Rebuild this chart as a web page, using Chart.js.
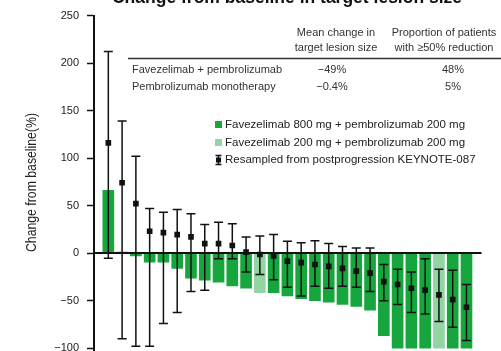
<!DOCTYPE html>
<html>
<head>
<meta charset="utf-8">
<script src="https://cdn.jsdelivr.net/npm/chart.js@4.4.0/dist/chart.umd.min.js"></script>
<style>
    html, body { margin: 0; padding: 0; background: #ffffff; overflow: hidden; }
    #wrap { width: 501px; height: 351px; position: relative; }
</style>
</head>
<body>
<div id="wrap"><canvas id="chart"></canvas></div>
<script>
"use strict";

// one entry per patient, sorted by best change in target lesion size
var patients = [1, 2, 3, 4, 5, 6, 7, 8, 9, 10, 11, 12, 13, 14, 15, 16, 17, 18, 19, 20, 21, 22, 23, 24, 25, 26, 27];
var changeFromBaseline = [66, 1, -3, -9.5, -9.5, -16, -26.5, -28.5, -30.5, -34.5, -37, -41.5, -41.5, -45, -48, -50, -51.5, -54, -56, -60, -87, -100, -100, -100, -100, -100, -100];
var favezelimabDose = [800, 800, 800, 800, 800, 800, 800, 800, 800, 800, 800, 200, 800, 800, 800, 800, 800, 800, 800, 800, 800, 800, 800, 800, 200, 800, 800];

// resampled postprogression KEYNOTE-087 (mean and interval)
var resampledMean = [116, 74, 52, 23, 21.5, 19.5, 17, 10, 10, 8, 1, -1.5, -3, -8.5, -10, -12, -14, -16, -19, -21, -30, -33, -37, -39, -44, -49, -57];
var resampledHigh = [212, 139, 102, 47, 43, 46, 41.5, 30, 32.5, 31, 17, 18, 19.5, 12.5, 11, 13, 10, 7, 5.5, 5.5, -12, -17, -20, -6, -17, -18, -33];
var resampledLow = [-5.5, -90, -98, -98, -74, -62.5, -40.5, -39, -6, -6, -20, -22.5, -28, -36, -45, -35, -37, -35, -36, -40.5, -50, -54, -62.5, -64, -72, -78, -92];

var yTicks = [250, 200, 150, 100, 50, 0, -50, -100];

var chartTitle = "Change from baseline in target lesion size";
var yAxisTitle = "Change from baseline(%)";
var legendLabels = [
    "Favezelimab 800 mg + pembrolizumab 200 mg",
    "Favezelimab 200 mg + pembrolizumab 200 mg",
    "Resampled from postprogression KEYNOTE-087"
];
var tableHeaders = [
    ["Mean change in", "target lesion size"],
    ["Proportion of patients", "with \u226550% reduction"]
];
var tableRows = ["Favezelimab + pembrolizumab", "Pembrolizumab monotherapy"];
var meanChange = ["\u221249%", "\u22120.4%"];
var proportion50 = ["48%", "5%"];

var DARK_GREEN = "#17a63d";
var LIGHT_GREEN = "#93d4a3";
var INK = "#111111";
var FONT = "'Liberation Sans', Arial, sans-serif";

var barColors = favezelimabDose.map(function(dose)
{
    return dose === 200 ? LIGHT_GREEN : DARK_GREEN;
});

function drawErrorBar(ctx, x, yHigh, yLow, cap)
{
    ctx.beginPath();
    ctx.moveTo(x, yHigh);
    ctx.lineTo(x, yLow);
    ctx.moveTo(x - cap, yHigh);
    ctx.lineTo(x + cap, yHigh);
    ctx.moveTo(x - cap, yLow);
    ctx.lineTo(x + cap, yLow);
    ctx.stroke();
}

var errorBarPlugin =
{
    id: "errorBars",
    afterDatasetDraw: function(chart, args)
    {
        if (args.index !== 0)
        {
            return;
        }
        var ctx = chart.ctx;
        var xScale = chart.scales.x;
        var yScale = chart.scales.y;
        var area = chart.chartArea;

        ctx.save();
        // zero line sits over the bars
        var y0 = yScale.getPixelForValue(0);
        ctx.strokeStyle = INK;
        ctx.lineWidth = 2;
        ctx.beginPath();
        ctx.moveTo(area.left, y0);
        ctx.lineTo(area.right, y0);
        ctx.stroke();

        ctx.lineWidth = 1.5;
        patients.forEach(function(p, i)
        {
            var x = xScale.getPixelForValue(p);
            drawErrorBar(ctx, x, yScale.getPixelForValue(resampledHigh[i]), yScale.getPixelForValue(resampledLow[i]), 4.5);
        });
        ctx.restore();
    }
};

var annotationPlugin =
{
    id: "annotations",
    afterDraw: function(chart)
    {
        var ctx = chart.ctx;
        ctx.save();

        // title, cut off by the top edge
        ctx.fillStyle = INK;
        ctx.font = "bold 17.5px " + FONT;
        ctx.textAlign = "center";
        ctx.textBaseline = "alphabetic";
        ctx.fillText(chartTitle, 287, 3);

        // condensed y axis title
        ctx.save();
        ctx.font = "14px " + FONT;
        ctx.fillStyle = "#222222";
        ctx.textBaseline = "middle";
        var w = ctx.measureText(yAxisTitle).width;
        ctx.translate(32, 182.5);
        ctx.rotate(-Math.PI / 2);
        ctx.scale(139 / w, 1);
        ctx.fillText(yAxisTitle, 0, 0);
        ctx.restore();

        // summary table
        ctx.fillStyle = "#333333";
        ctx.font = "11px " + FONT;
        ctx.textBaseline = "middle";
        var headerX = [336, 444];
        tableHeaders.forEach(function(lines, c)
        {
            ctx.fillText(lines[0], headerX[c], 33);
            ctx.fillText(lines[1], headerX[c], 48);
        });
        ctx.strokeStyle = "#333333";
        ctx.lineWidth = 1.5;
        ctx.beginPath();
        ctx.moveTo(128, 58.5);
        ctx.lineTo(501, 58.5);
        ctx.stroke();

        var rowY = [70, 86.5];
        tableRows.forEach(function(label, r)
        {
            ctx.textAlign = "left";
            ctx.fillText(label, 132, rowY[r]);
            ctx.textAlign = "center";
            ctx.fillText(meanChange[r], 332, rowY[r]);
            ctx.fillText(proportion50[r], 453, rowY[r]);
        });

        // legend
        var legendY = [124.5, 142.5, 160];
        ctx.textAlign = "left";
        ctx.fillStyle = DARK_GREEN;
        ctx.fillRect(215, legendY[0] - 3.5, 7, 7);
        ctx.fillStyle = LIGHT_GREEN;
        ctx.fillRect(215, legendY[1] - 3.5, 7, 7);
        ctx.strokeStyle = INK;
        ctx.lineWidth = 1.5;
        drawErrorBar(ctx, 218.5, legendY[2] - 4.5, legendY[2] + 4.5, 3);
        ctx.fillStyle = INK;
        ctx.fillRect(216, legendY[2] - 2.5, 5, 5);
        ctx.fillStyle = "#222222";
        ctx.font = "11.5px " + FONT;
        legendLabels.forEach(function(text, i)
        {
            ctx.fillText(text, 225, legendY[i]);
        });

        ctx.restore();
    }
};

var ctx = document.getElementById("chart").getContext("2d");
var chart = new Chart(ctx,
{
    type: "bar",
    data:
    {
        datasets: [
        {
            type: "bar",
            label: "Change from baseline",
            data: patients.map(function(p, i)
            {
                return { x: p, y: changeFromBaseline[i] };
            }),
            backgroundColor: barColors,
            borderWidth: 0,
            barThickness: 11,
            order: 2
        },
        {
            type: "scatter",
            label: "Resampled mean",
            data: patients.map(function(p, i)
            {
                return { x: p, y: resampledMean[i] };
            }),
            pointStyle: "rect",
            pointRadius: 4,
            pointBackgroundColor: INK,
            pointBorderWidth: 0,
            order: 1
        }]
    },
    options:
    {
        responsive: true,
        maintainAspectRatio: false,
        animation: false,
        events: [],
        layout:
        {
            autoPadding: false,
            padding: { top: 15.5, right: 19.5, bottom: 0, left: 0 }
        },
        plugins:
        {
            legend: { display: false },
            tooltip: { enabled: false },
            title: { display: false }
        },
        scales:
        {
            x:
            {
                type: "linear",
                display: false,
                min: -0.04,
                max: 28.09,
                offset: false
            },
            y:
            {
                min: -103,
                max: 250,
                afterBuildTicks: function(scale)
                {
                    scale.ticks = yTicks.map(function(v)
                    {
                        return { value: v };
                    });
                },
                afterFit: function(scale)
                {
                    scale.width = 94;
                    scale.paddingTop = 0;
                    scale.paddingBottom = 0;
                },
                border: { display: true, color: INK, width: 2 },
                grid:
                {
                    drawOnChartArea: false,
                    drawTicks: true,
                    tickLength: 7,
                    tickWidth: 1.5,
                    tickColor: INK
                },
                ticks:
                {
                    color: "#222222",
                    padding: 8,
                    font: { family: FONT, size: 11 },
                    callback: function(value)
                    {
                        return String(value).replace("-", "\u2212");
                    }
                },
                title: { display: false }
            }
        }
    },
    plugins: [errorBarPlugin, annotationPlugin]
});
</script>
</body>
</html>
